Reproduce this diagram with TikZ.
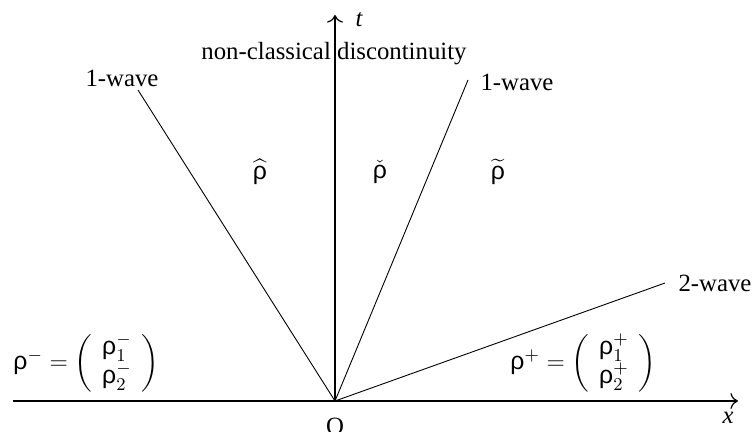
\documentclass[tikz,border=0pt]{standalone}
\usepackage{amsmath}
\usepackage{fontspec}
\setmainfont{Liberation Serif}
\newfontfamily\grk{Liberation Sans}
\usetikzlibrary{arrows.meta}
\newcommand{\rh}{\mbox{\grk ρ}}
\tikzset{
  axis/.style={line width=0.6pt,-{To[scale=1.3]}},
  wave/.style={line width=0.45pt},
  lbl/.style={inner sep=0pt,font=\fontsize{12.4}{14}\selectfont}
}
\begin{document}
\begin{tikzpicture}[x=0.5pt,y=-0.5pt]
\useasboundingbox (0,0) rectangle (753,432);
\coordinate (O) at (335,401);
\coordinate (xl) at (13,401);
\coordinate (xr) at (738,401);
\coordinate (tt) at (335,15);
\coordinate (e1l) at (138,90);
\coordinate (e1r) at (468,80);
\coordinate (e2) at (665,283);
\draw[axis] (xl) -- (xr);
\draw[axis] (O) -- (tt);
\draw[wave] (O) -- (e1l);
\draw[wave] (O) -- (e1r);
\draw[wave] (O) -- (e2);
\node[lbl] (xlab) at (728,418) {\itshape x};
\node[lbl] (tlab) at (359,20) {\itshape t};
\node[lbl,anchor=base] (olab) at (335,434) {O};
\node[lbl,anchor=base] (disc) at (334,60) {non-classical discontinuity};
\node[lbl] (w1l) at (122,78) {1-wave};
\node[lbl] (w1r) at (517,82) {1-wave};
\node[lbl] (w2) at (715,283) {2-wave};
\node[lbl] (rhat) at (260,172) {$\widehat{\rh}$};
\node[lbl] (rchk) at (380,172) {$\check{\rh}$};
\node[lbl] (rtil) at (498,172) {$\widetilde{\rh}$};
\node[lbl,anchor=west] (rminus) at (13,363) {$\rh^-=\left(\begin{array}{c}\rh_1^-\\ \rh_2^-\end{array}\right)$};
\node[lbl,anchor=west] (rplus) at (510,363) {$\rh^+=\left(\begin{array}{c}\rh_1^+\\ \rh_2^+\end{array}\right)$};
\end{tikzpicture}
\end{document}
